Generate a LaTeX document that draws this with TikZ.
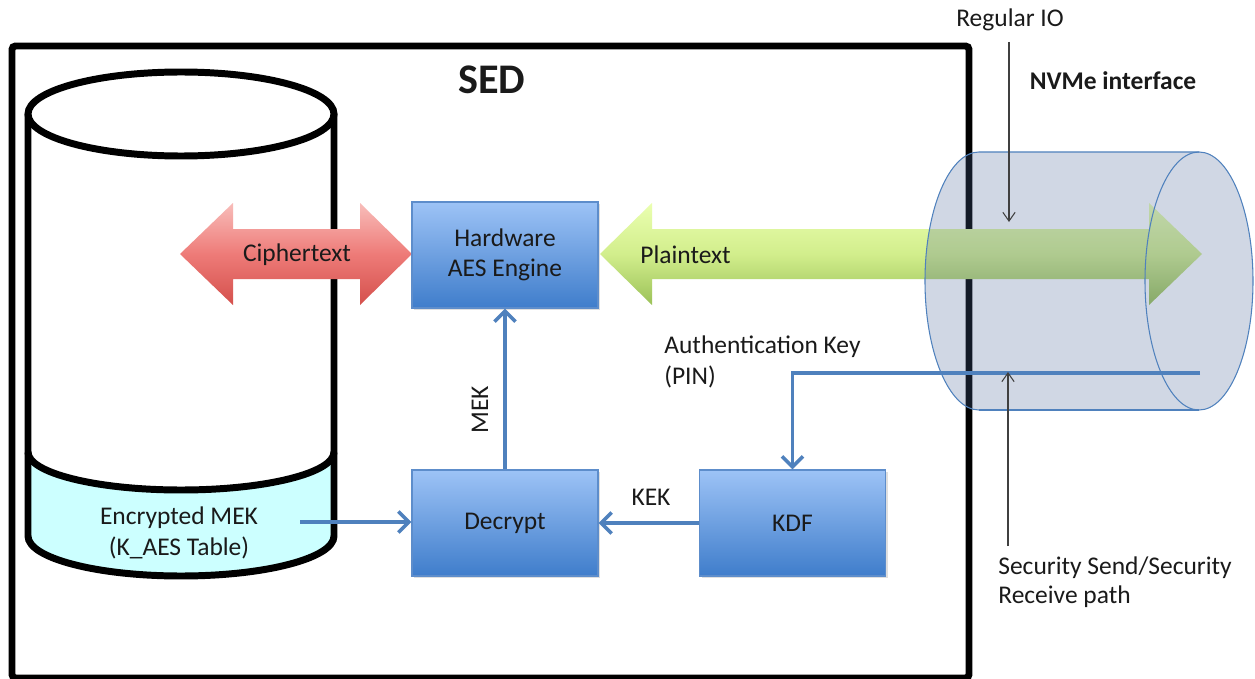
\documentclass[tikz,border=0pt]{standalone}
\usepackage{fontspec}
\setmainfont{Carlito}
\usetikzlibrary{arrows.meta,shadows}
\definecolor{boxtop}{HTML}{9DC3F6}
\definecolor{boxbot}{HTML}{3F7DCB}
\definecolor{boxedge}{HTML}{5D8DCB}
\definecolor{lineblue}{HTML}{4F81BD}
\definecolor{redtop}{HTML}{F8BDBA}
\definecolor{redmid}{HTML}{EE7B78}
\definecolor{redbot}{HTML}{D4504C}
\definecolor{grtop}{HTML}{EAFFB0}
\definecolor{grmid}{HTML}{D2EE8C}
\definecolor{grbot}{HTML}{9BC158}
\definecolor{cyl}{HTML}{4D669A}
\definecolor{diskcyan}{HTML}{CCFFFF}
\definecolor{txt}{HTML}{1A1A1A}
\tikzset{
  blockbox/.style={draw=boxedge, line width=0.6pt, top color=boxtop, bottom color=boxbot,
    minimum width=3.72cm, minimum height=2.12cm, inner sep=0pt, text=txt, align=center,
    font=\fontsize{14.5}{17}\selectfont,
    drop shadow={opacity=0.25, shadow xshift=1.2pt, shadow yshift=-1.2pt}},
  lbl/.style={text=txt, font=\fontsize{14.5}{17}\selectfont, inner sep=0pt},
  bluearrow/.style={draw=lineblue, line width=2.1pt, -{Straight Barb[length=6pt,width=12pt]}},
  thinarrow/.style={draw=black!75, line width=0.6pt, -{Straight Barb[length=5pt,width=7pt]}},
  diskline/.style={line width=3.97pt, draw=black}
}
\begin{document}
\begin{tikzpicture}[x=0.02cm,y=0.02cm]
\useasboundingbox (0,0) rectangle (1255,-679);
\fill[white] (0,0) rectangle (1255,-679);
% SED frame
\draw[line width=3.97pt, fill=white, rounded corners=2pt, drop shadow={opacity=0.2, shadow xshift=1pt, shadow yshift=-1pt}] (12,-46) rectangle (969,-678);
\node[font=\bfseries\fontsize{24}{28}\selectfont, text=txt] (sed) at (492,-80) {SED};
% disk
\fill[white] (28,-114) -- (28,-536) arc[start angle=180,end angle=360,x radius=153,y radius=40] -- (334,-114) -- cycle;
\fill[diskcyan] (28,-452) arc[start angle=180,end angle=360,x radius=153,y radius=38] -- (334,-536) arc[start angle=0,end angle=-180,x radius=153,y radius=40] -- cycle;
\draw[diskline] (181,-114) ellipse[x radius=153, y radius=42];
\draw[diskline] (28,-114) -- (28,-536) arc[start angle=180,end angle=360,x radius=153,y radius=40] -- (334,-114);
\draw[diskline] (28,-452) arc[start angle=180,end angle=360,x radius=153,y radius=38];
\node[lbl, align=center, font=\fontsize{14.5}{17.5}\selectfont] (emek) at (179,-533) {Encrypted MEK\\(K\_AES Table)};
% red double arrow
\shade[top color=redtop, bottom color=redbot, middle color=redmid]
  (180,-254) -- (233,-203) -- (233,-229) -- (360,-229) -- (360,-203) -- (412,-254)
  -- (360,-305) -- (360,-279) -- (233,-279) -- (233,-305) -- cycle;
\node[lbl] (cipher) at (297,-255) {Ciphertext};
% green double arrow
\shade[top color=grtop, bottom color=grbot, middle color=grmid]
  (600,-254) -- (652,-203) -- (652,-229) -- (1149,-229) -- (1149,-203) -- (1202,-254)
  -- (1149,-305) -- (1149,-279) -- (652,-279) -- (652,-305) -- cycle;
\node[lbl, anchor=west] (plain) at (640,-255) {Plaintext};
% blocks
\node[blockbox] (aes) at (505,-255) {Hardware\\AES Engine};
\node[blockbox] (dec) at (505,-523) {Decrypt};
\node[blockbox] (kdf) at (792.5,-523) {KDF};
% connectors
\coordinate (emekout) at (300,-522);
\draw[bluearrow] (emekout) -- (emekout -| dec.west);
\draw[bluearrow] (dec.north) -- (aes.south);
\node[lbl, rotate=90] (mek) at (480,-410) {MEK};
\draw[bluearrow] (kdf.west) -- (dec.east);
\node[lbl] (kek) at (651,-497) {KEK};
\node[lbl, anchor=north west, align=left, font=\fontsize{14.5}{18}\selectfont] (auth) at (664,-335) {Authentication Key\\(PIN)};
% NVMe cylinder
\coordinate (authstart) at (1200,-373);
\fill[cyl, fill opacity=0.26] (979,-152) -- (1199,-152) arc[start angle=90,end angle=-90,x radius=54,y radius=129]
  -- (979,-410) arc[start angle=270,end angle=90,x radius=54,y radius=129] -- cycle;
\draw[lineblue, line width=0.6pt] (979,-410) arc[start angle=270,end angle=90,x radius=54,y radius=129] -- (1199,-152);
\draw[lineblue, line width=0.6pt] (979,-410) -- (1199,-410);
\draw[lineblue, line width=0.6pt] (1199,-281) ellipse[x radius=54, y radius=129];
\draw[bluearrow] (authstart) -| (kdf.north);
% interface labels
\node[lbl] (rio) at (1010,-20) {Regular IO};
\node[lbl, font=\bfseries\fontsize{14.5}{17}\selectfont] (nvme) at (1113,-81) {NVMe interface};
\coordinate (rioA) at (1009,-42);
\coordinate (rioB) at (1009,-222);
\draw[thinarrow] (rioA) -- (rioB);
\coordinate (secA) at (1008,-546);
\coordinate (secB) at (1008,-372);
\draw[thinarrow] (secA) -- (secB);
\node[lbl, anchor=north west, align=left] (sec) at (998,-556) {Security Send/Security\\Receive path};
\end{tikzpicture}
\end{document}
